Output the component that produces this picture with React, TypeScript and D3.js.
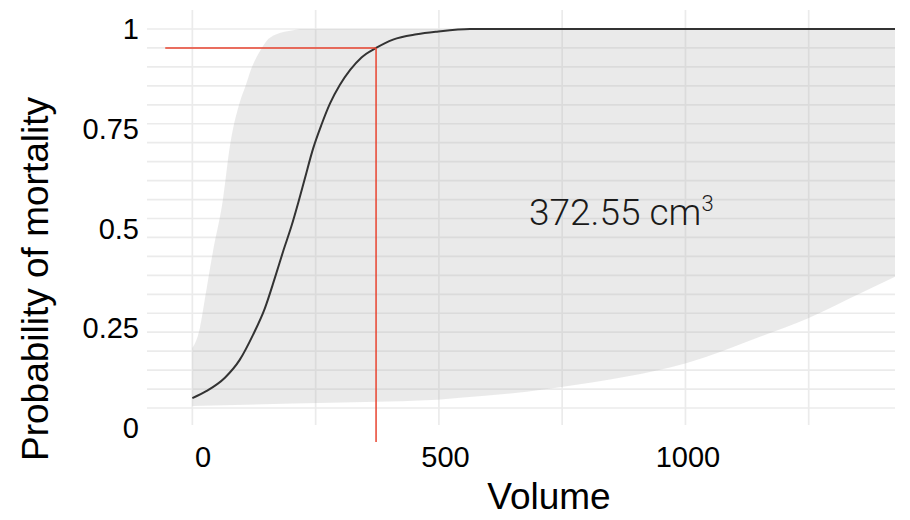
import React from "react";
import * as d3 from "d3";

// Fitted probability curve (volume in cm³ → probability)
const curveVolume = [0, 29, 66, 96, 123, 147, 167, 184, 201, 215, 228, 245, 262, 279, 299, 320, 343, 372.55, 407, 455, 496, 563, 1425];
const curveProb = [0.026, 0.045, 0.08, 0.127, 0.193, 0.263, 0.342, 0.413, 0.48, 0.543, 0.605, 0.685, 0.748, 0.803, 0.852, 0.892, 0.925, 0.95, 0.972, 0.986, 0.993, 1.0, 1.0];

// Confidence band, upper edge
const upperVolume = [0, 15, 25, 42, 62, 76, 97, 108, 118, 128, 140, 150, 168, 205, 222, 1425];
const upperProb = [0.158, 0.21, 0.285, 0.415, 0.55, 0.69, 0.81, 0.85, 0.89, 0.92, 0.948, 0.968, 0.985, 0.997, 1, 1];

// Confidence band, lower edge
const lowerVolume = [0, 204, 497, 543, 678, 745, 881, 1003, 1151, 1249, 1355, 1425];
const lowerProb = [0.005, 0.012, 0.022, 0.027, 0.043, 0.055, 0.083, 0.119, 0.188, 0.237, 0.303, 0.346];

// Threshold
const thresholdVolume = 372.55;
const thresholdProb = 0.95;
const thresholdLineStart = -55;
const thresholdLineBottom = -0.09;
const annotationText = "372.55 cm";
const annotationSup = "3";
const annotationVolume = 870;
const annotationProb = 0.483;

const xTickValues = [0, 500, 1000];
const xTickLabels = ["0", "500", "1000"];
const xGridValues = [0, 250, 500, 750, 1000, 1250];
const yTickValues = [0, 0.25, 0.5, 0.75, 1];
const yTickLabels = ["0", "0.25", "0.5", "0.75", "1"];

const xTitle = "Volume";
const yTitle = "Probability of mortality";

export default function App() {
  const W = 910;
  const H = 520;
  const panel = { left: 147, right: 895, top: 10, bottom: 425 };

  const x = d3.scaleLinear().domain([-92, 1425]).range([panel.left, panel.right]);
  const y = d3.scaleLinear().domain([0, 1]).range([408, 29]);
  const yLabel = d3.scaleLinear().domain([0, 1]).range([428, 29]);
  const xLabel = d3.scaleLinear().domain([0, 1000]).range([203, 688]);

  const line = d3
    .line<[number, number]>()
    .x((d) => x(d[0]))
    .y((d) => y(d[1]))
    .curve(d3.curveMonotoneX);

  const curvePts: [number, number][] = curveVolume.map((v, i) => [v, curveProb[i]]);
  const upperPts: [number, number][] = upperVolume.map((v, i) => [v, upperProb[i]]);
  const lowerPts: [number, number][] = lowerVolume.map((v, i) => [v, lowerProb[i]]);

  const upperPath = line(upperPts) || "";
  const lowerRev = line([...lowerPts].reverse()) || "";
  const ribbonPath = upperPath + "L" + lowerRev.slice(1) + "Z";

  const gridH = y.ticks(20);

  const axisFont = "'Liberation Sans', Arial, sans-serif";

  return (
    <svg width={W} height={H} style={{ display: "block", position: "absolute", left: 0, top: 0 }}>
      <rect width={W} height={H} fill="#ffffff" />
      <defs>
        <clipPath id="panelClip">
          <rect x={panel.left} y={panel.top} width={panel.right - panel.left} height={panel.bottom - panel.top} />
        </clipPath>
      </defs>
      {/* grid */}
      {gridH.map((t) => (
        <line key={"h" + t} x1={panel.left} x2={panel.right} y1={y(t)} y2={y(t)} stroke="#EBEBEB" strokeWidth={1.7} />
      ))}
      {xGridValues.map((t) => (
        <line key={"v" + t} x1={x(t)} x2={x(t)} y1={panel.top} y2={panel.bottom} stroke="#EBEBEB" strokeWidth={1.7} />
      ))}
      <g clipPath="url(#panelClip)">
        <path d={ribbonPath} fill="#B3B3B3" fillOpacity={0.27} stroke="none" />
        <path d={line(curvePts) || ""} fill="none" stroke="#333333" strokeWidth={2} />
      </g>
      {/* threshold lines */}
      <line
        x1={x(thresholdLineStart)}
        x2={x(thresholdVolume)}
        y1={y(thresholdProb)}
        y2={y(thresholdProb)}
        stroke="#E8432F"
        strokeWidth={1.5}
      />
      <line
        x1={x(thresholdVolume)}
        x2={x(thresholdVolume)}
        y1={y(thresholdProb)}
        y2={y(thresholdLineBottom)}
        stroke="#E8432F"
        strokeWidth={1.5}
      />
      <text
        x={x(annotationVolume)}
        y={y(annotationProb)}
        textAnchor="middle"
        fontFamily="Roboto, sans-serif"
        fontWeight={300}
        fontSize={37}
        fill="#1a1a1a"
      >
        {annotationText}
        <tspan fontSize={22} dy={-14}>{annotationSup}</tspan>
      </text>
      {/* y tick labels */}
      {yTickValues.map((t, i) => (
        <text
          key={"yl" + t}
          x={139}
          y={yLabel(t)}
          textAnchor="end"
          dominantBaseline="central"
          fontFamily={axisFont}
          fontSize={29}
          fill="#000"
        >
          {yTickLabels[i]}
        </text>
      ))}
      {/* x tick labels */}
      {xTickValues.map((t, i) => (
        <text
          key={"xl" + t}
          x={xLabel(t)}
          y={467}
          textAnchor="middle"
          fontFamily={axisFont}
          fontSize={29}
          fill="#000"
        >
          {xTickLabels[i]}
        </text>
      ))}
      <text x={549} y={509} textAnchor="middle" fontFamily={axisFont} fontSize={37} fill="#000">
        {xTitle}
      </text>
      <text
        transform={`translate(48, 279) rotate(-90)`}
        textAnchor="middle"
        fontFamily={axisFont}
        fontSize={37}
        fill="#000"
      >
        {yTitle}
      </text>
    </svg>
  );
}
